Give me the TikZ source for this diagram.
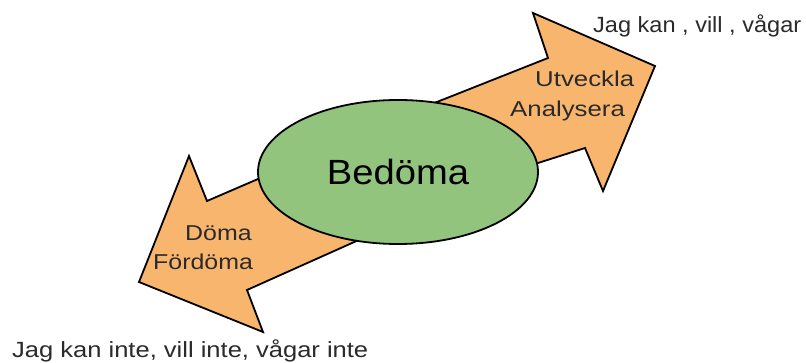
\documentclass[tikz,border=0pt]{standalone}
\usepackage{fontspec}
\usepackage{graphicx}
\setmainfont{Liberation Sans}
\usetikzlibrary{shapes.geometric}
\definecolor{arroworange}{HTML}{F8B56E}
\definecolor{ellgreen}{HTML}{93C47E}
\definecolor{txtgrey}{HTML}{2A2A2A}
\newcommand{\wide}[2]{\scalebox{#1}[1]{#2}}
\begin{document}
\begin{tikzpicture}[x=1pt,y=-1pt,
  bigarrow/.style={draw=black,fill=arroworange,line width=1.8pt,line join=miter},
  armlabel/.style={font=\fontsize{21.5}{24}\selectfont,text=txtgrey,inner sep=0pt,anchor=base west},
  outlabel/.style={font=\fontsize{22}{25}\selectfont,text=txtgrey,inner sep=0pt,anchor=base west}]
\useasboundingbox (0,0) rectangle (806,363);
% right arrow
\draw[bigarrow] (396,118) -- (447,98) -- (548,58) -- (533,13) -- (655,66) -- (603,191) -- (585,148) -- (538,163) -- (491,178) -- cycle;
% left arrow
\draw[bigarrow] (309,157) -- (258,179) -- (207,201) -- (189,156) -- (139,282) -- (263,332) -- (247,290) -- (352,243) -- (404,220) -- cycle;
% ellipse
\node[ellipse,draw=black,fill=ellgreen,line width=1.8pt,minimum width=280pt,minimum height=144pt,inner sep=0pt,
  font=\fontsize{35}{38}\selectfont] (bed) at (398,172) {\wide{1.09}{Bedöma}};
% arm labels
\node[armlabel] (utv) at (535,87) {\wide{1.2}{Utveckla}};
\node[armlabel] (ana) at (510,117) {\wide{1.2}{Analysera}};
\node[armlabel] (dom) at (185,241) {\wide{1.16}{Döma}};
\node[armlabel] (ford) at (153,270) {\wide{1.16}{Fördöma}};
% outer labels
\node[outlabel] (top) at (593,33) {\wide{1.07}{Jag kan , vill , vågar}};
\node[outlabel] (bot) at (12,358) {\wide{1.16}{Jag kan inte, vill inte, vågar inte}};
\end{tikzpicture}
\end{document}
